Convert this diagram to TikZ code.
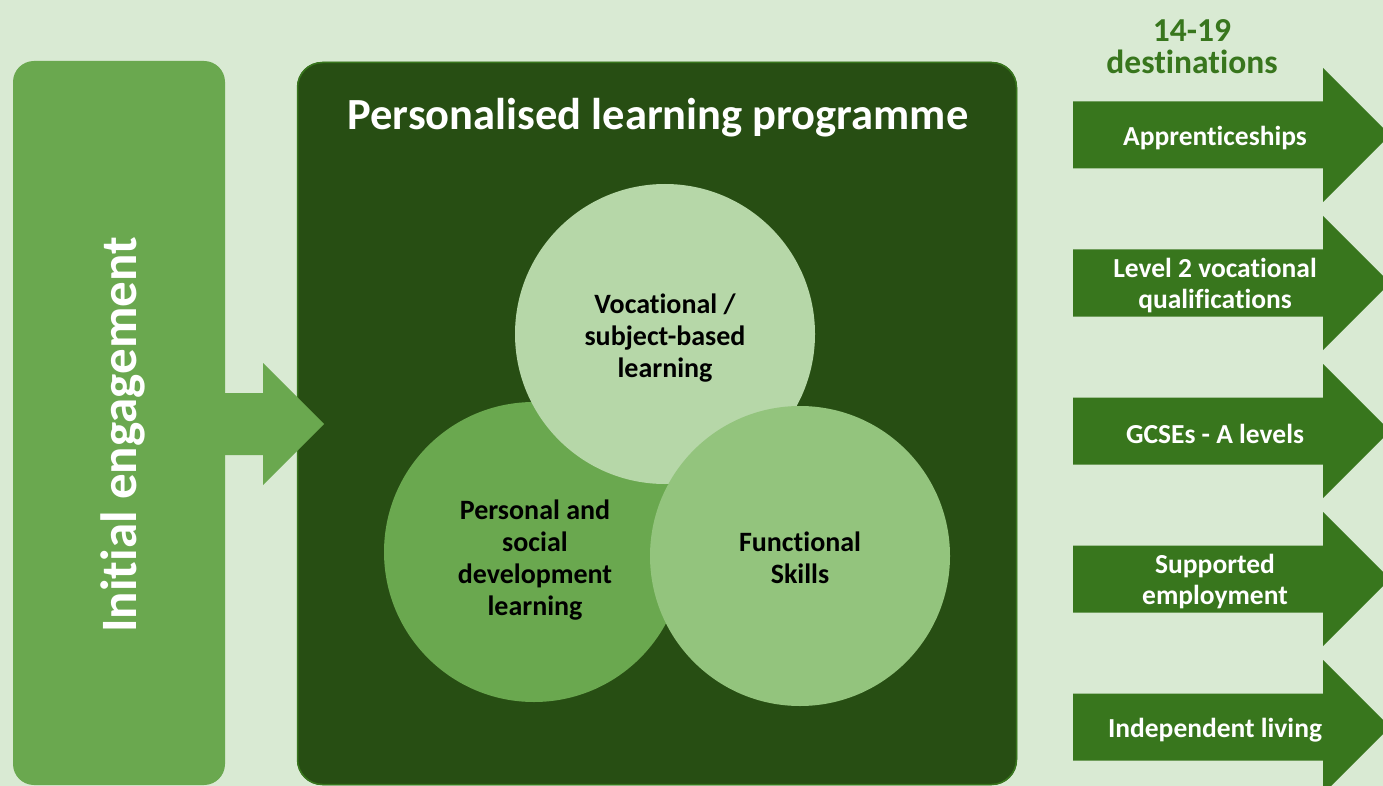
\documentclass[tikz,border=0pt]{standalone}
\usepackage{fontspec}
\setmainfont{Carlito}[Ligatures=NoCommon]
\definecolor{bgc}{HTML}{D9EAD3}
\definecolor{midg}{HTML}{6AA84F}
\definecolor{darkg}{HTML}{274E13}
\definecolor{edgeg}{HTML}{38761D}
\definecolor{lightg}{HTML}{B6D7A8}
\definecolor{softg}{HTML}{93C47D}
\tikzset{
  circ/.style={circle, minimum size=300pt, inner sep=0pt, align=center, font=\bfseries\fontsize{28}{32}\selectfont, text=black},
  circtext/.style={align=center, font=\bfseries\fontsize{28}{32}\selectfont, text=black},
  destarrow/.style={fill=edgeg, draw=none},
  desttext/.style={text=white, font=\bfseries\fontsize{27.5}{31}\selectfont, align=center},
}
\begin{document}
\begin{tikzpicture}[x=1pt,y=-1pt]
\useasboundingbox (0,0) rectangle (1383,786);
\clip (0,0) rectangle (1383,786);
\fill[bgc] (0,0) rectangle (1383,786);
% left panel
\fill[midg, rounded corners=21pt] (13,61) rectangle (225,785);
\node[rotate=90, text=white, font=\bfseries\fontsize{51}{56}\selectfont] (init) at (123,435) {Initial engagement};
% dark panel
\fill[darkg, rounded corners=25pt] (297,62) rectangle (1017,785);
\draw[edgeg, line width=1.5pt, rounded corners=25pt] (297.5,62.5) rectangle (1016.5,784.5);
\node[text=white, font=\bfseries\fontsize{44.5}{50}\selectfont] (title) at (658,118) {Personalised learning programme};
% left arrow
\fill[midg] (224,393) -- (263,393) -- (263,363) -- (324,424) -- (263,485) -- (263,455) -- (224,455) -- cycle;
% circles
\node[circ, fill=midg] (psd) at (534,552) {};
\node[circ, fill=lightg] (voc) at (665,334) {};
\node[circ, fill=softg] (fs) at (800,556) {};
\node[circtext] (psdt) at (535,560) {Personal and\\social\\development\\learning};
\node[circtext] (voct) at (665,338) {Vocational /\\subject-based\\learning};
\node[circtext] (fst) at (800,558) {Functional\\Skills};
% header
\node[text=edgeg, font=\bfseries\fontsize{33.5}{32}\selectfont, align=center] (head) at (1192,47) {14-19\\destinations};
% destination arrows
\foreach \c/\t [count=\i] in {135/Apprenticeships, 283/{Level 2 vocational\\qualifications}, 431/{GCSEs - A levels}, 579/{Supported\\employment}, 727/{Independent living}}{
  \fill[destarrow] (1073,\c-33.5) -- (1323,\c-33.5) -- (1323,\c-67) -- (1390,\c) -- (1323,\c+67) -- (1323,\c+33.5) -- (1073,\c+33.5) -- cycle;
  \node[desttext] (d\i) at (1215,\c+3) {\t};
}
\end{tikzpicture}
\end{document}
